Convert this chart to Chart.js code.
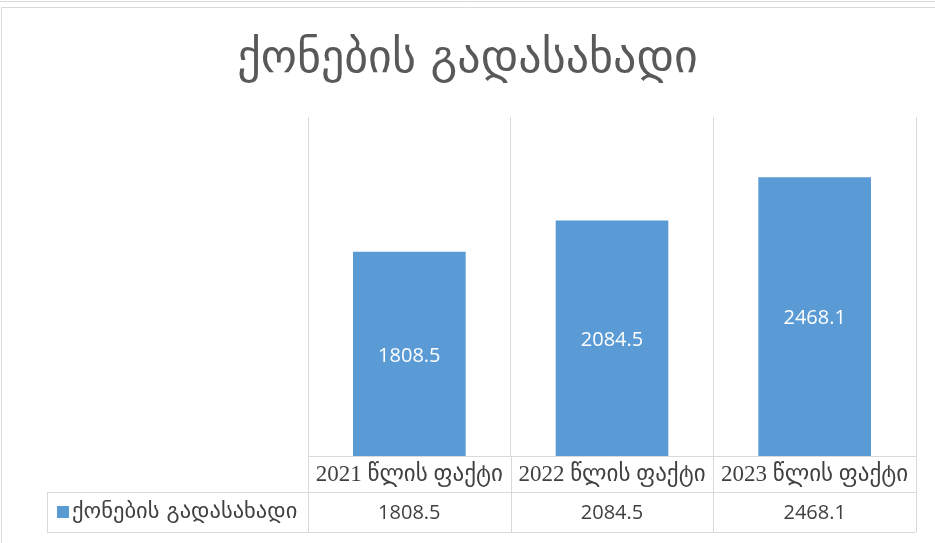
<!DOCTYPE html>
<html>
<head>
<meta charset="utf-8">
<script src="https://cdn.jsdelivr.net/npm/chart.js@4/dist/chart.umd.min.js"></script>
<style>
    html, body { margin: 0; padding: 0; background: #fff; }
    #wrap { width: 935px; height: 543px; position: relative; }
</style>
</head>
<body>
<div id="wrap"><canvas id="chart"></canvas></div>
<script>
const titleText = "ქონების გადასახადი";
const seriesName = "ქონების გადასახადი";
const categories = ["2021 წლის ფაქტი", "2022 წლის ფაქტი", "2023 წლის ფაქტი"];
const values = [1808.5, 2084.5, 2468.1];
const valueLabels = ["1808.5", "2084.5", "2468.1"];

const barColor = "#5b9bd5";
const lineColor = "#d9d9d9";
const textColor = "#404040";
const geoFont = "'DejaVu Sans', sans-serif";
const catFont = "'Liberation Serif', 'DejaVu Sans', serif";
const numFont = "'Open Sans', 'DejaVu Sans', sans-serif";

// frame around the whole chart
const framePlugin = {
    id: "frame",
    beforeDraw(chart) {
        const ctx = chart.ctx;
        ctx.save();
        ctx.fillStyle = "#fff";
        ctx.fillRect(0, 0, chart.width, chart.height);
        ctx.strokeStyle = lineColor;
        ctx.lineWidth = 1;
        ctx.beginPath();
        ctx.moveTo(0, 1.5);
        ctx.lineTo(chart.width, 1.5);
        ctx.moveTo(1.5, chart.height);
        ctx.lineTo(1.5, 7.5);
        ctx.lineTo(chart.width, 7.5);
        ctx.stroke();
        ctx.restore();
    }
};

// white value labels inside the bars
const barLabelPlugin = {
    id: "barLabels",
    afterDatasetsDraw(chart) {
        const ctx = chart.ctx;
        const meta = chart.getDatasetMeta(0);
        ctx.save();
        ctx.fillStyle = "#fff";
        ctx.font = "20px " + numFont;
        ctx.textAlign = "center";
        ctx.textBaseline = "middle";
        meta.data.forEach((bar, i) => {
            ctx.fillText(valueLabels[i], bar.x, (bar.y + bar.base) / 2 + 2);
        });
        ctx.restore();
    }
};

// data table under the axis (legend key + values)
const dataTablePlugin = {
    id: "dataTable",
    afterDraw(chart) {
        const ctx = chart.ctx;
        const x = chart.scales.x;
        const area = chart.chartArea;
        const rowTop = area.bottom;
        const rowMid = rowTop + 36;
        const rowBottom = rowTop + 76;
        const legendLeft = 47;
        const edges = [];
        for (let i = 0; i <= categories.length; i++) {
            edges.push(x.getPixelForValue(i - 0.5));
        }

        ctx.save();
        ctx.strokeStyle = lineColor;
        ctx.lineWidth = 1;
        ctx.beginPath();
        edges.forEach(e => {
            const px = Math.round(e) + 0.5;
            ctx.moveTo(px, rowTop);
            ctx.lineTo(px, rowBottom);
        });
        ctx.moveTo(legendLeft + 0.5, rowMid);
        ctx.lineTo(legendLeft + 0.5, rowBottom + 0.5);
        ctx.moveTo(legendLeft, Math.round(rowMid) + 0.5);
        ctx.lineTo(edges[edges.length - 1], Math.round(rowMid) + 0.5);
        ctx.moveTo(legendLeft, Math.round(rowBottom) + 0.5);
        ctx.lineTo(edges[edges.length - 1], Math.round(rowBottom) + 0.5);
        ctx.stroke();

        // legend key
        ctx.fillStyle = barColor;
        ctx.fillRect(57, rowMid + 14, 12, 12);
        ctx.fillStyle = textColor;
        ctx.font = "22.5px " + geoFont;
        ctx.textBaseline = "middle";
        ctx.textAlign = "left";
        ctx.fillText(seriesName, 72, rowMid + 20);

        ctx.font = "20px " + numFont;
        ctx.textAlign = "center";
        valueLabels.forEach((v, i) => {
            ctx.fillText(v, x.getPixelForValue(i), rowMid + 21);
        });
        ctx.restore();
    }
};

const config = {
    type: "bar",
    data: {
        labels: categories,
        datasets: [{
            label: seriesName,
            data: values,
            backgroundColor: barColor,
            barPercentage: 0.556,
            categoryPercentage: 1
        }]
    },
    options: {
        responsive: false,
        animation: false,
        layout: {
            padding: { left: 0, right: 0, top: 0, bottom: 11 }
        },
        plugins: {
            legend: { display: false },
            tooltip: { enabled: false },
            title: {
                display: true,
                text: titleText,
                color: "#595959",
                font: { family: geoFont, size: 46, weight: "normal" },
                padding: { top: 32, bottom: 30 }
            }
        },
        scales: {
            x: {
                offset: true,
                grid: {
                    offset: true,
                    color: lineColor,
                    drawTicks: false
                },
                border: { display: true, color: lineColor },
                ticks: {
                    color: textColor,
                    font: { family: catFont, size: 23 },
                    padding: 5,
                    maxRotation: 0
                },
                afterFit(scale) {
                    scale.height = 76;
                }
            },
            y: {
                position: "left",
                min: 0,
                max: 3000,
                grid: { display: false },
                border: { display: false },
                ticks: { display: false },
                afterFit(scale) {
                    scale.width = 308;
                }
            },
            yRight: {
                position: "right",
                grid: { display: false },
                border: { display: false },
                ticks: { display: false },
                afterFit(scale) {
                    scale.width = 19;
                }
            }
        }
    },
    plugins: [framePlugin, barLabelPlugin, dataTablePlugin]
};

const canvas = document.getElementById("chart");
canvas.width = 935;
canvas.height = 543;
new Chart(canvas, config);
</script>
</body>
</html>
